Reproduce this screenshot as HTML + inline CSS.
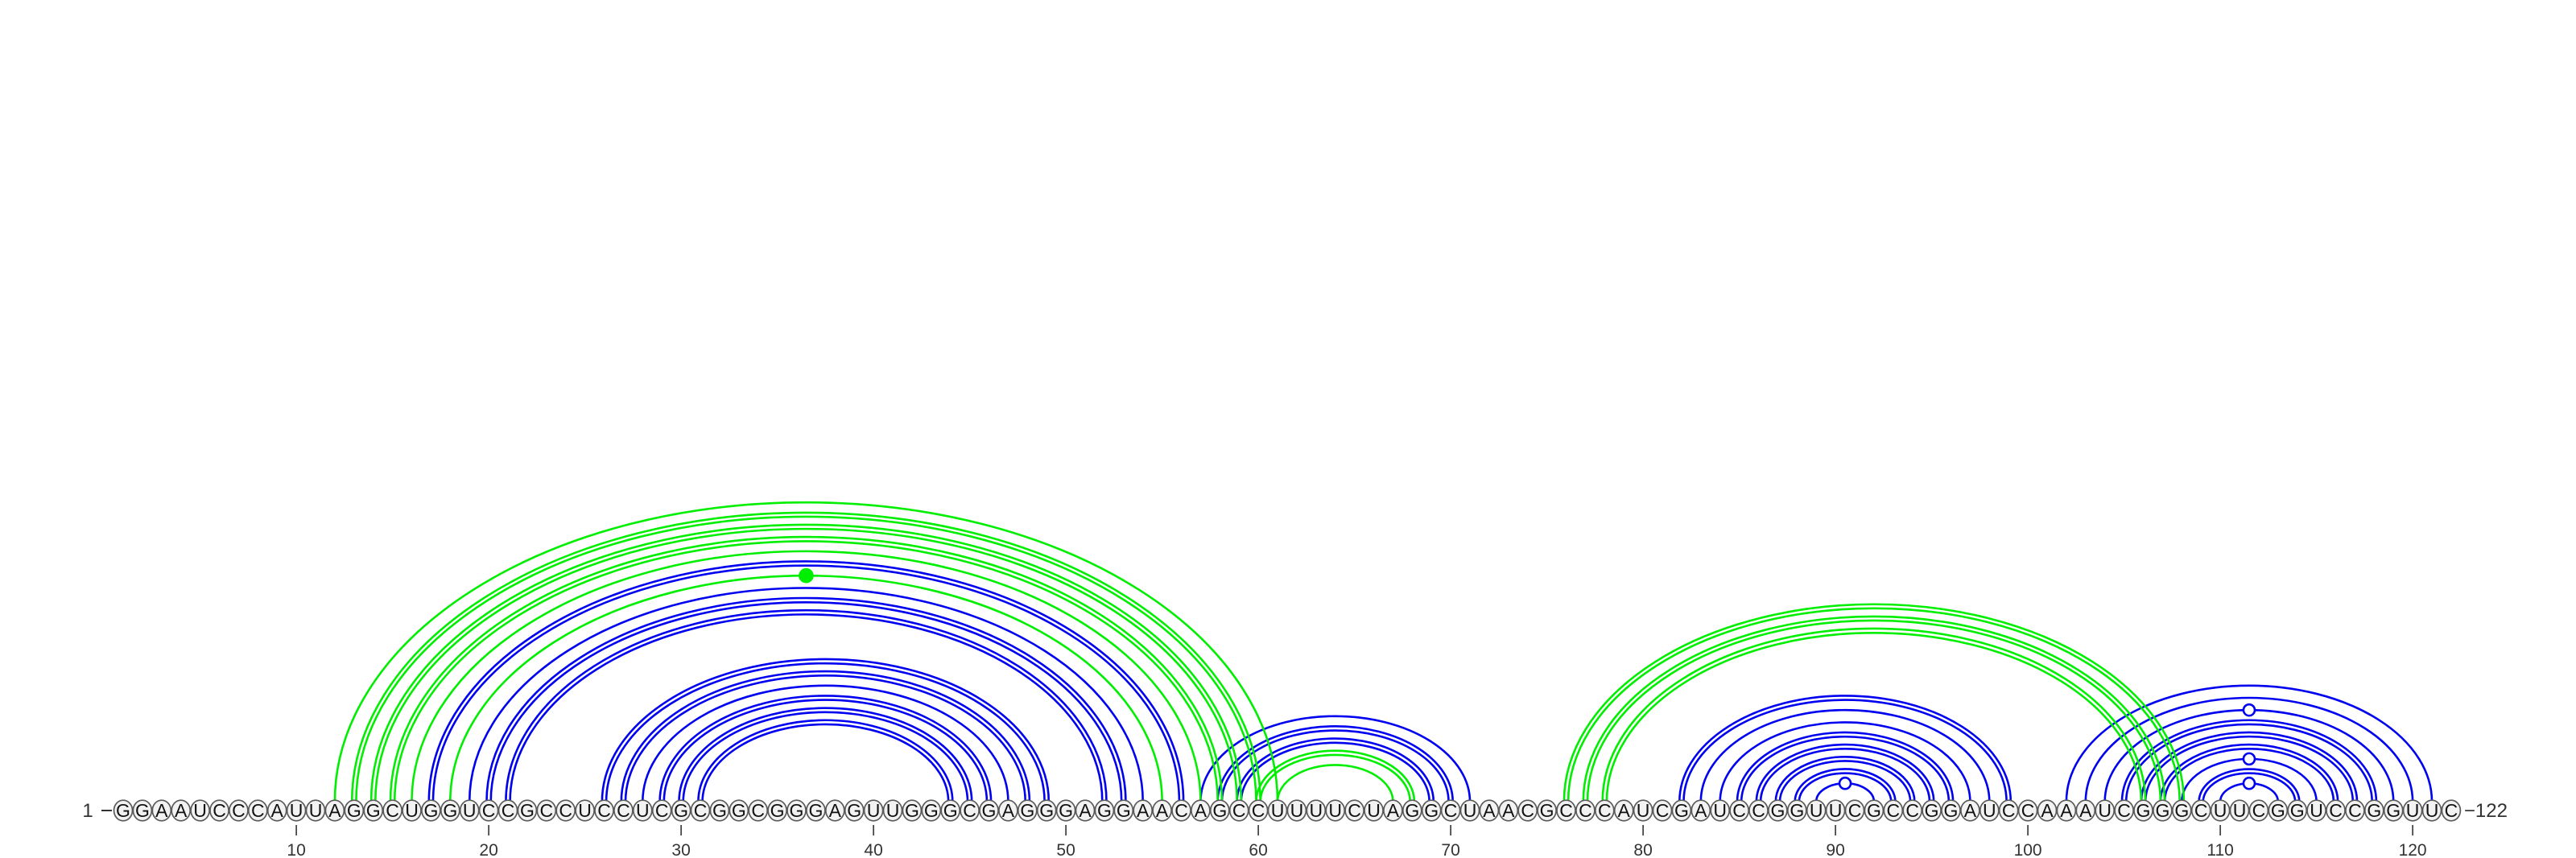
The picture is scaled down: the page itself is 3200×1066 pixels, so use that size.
<!DOCTYPE html>
<html><head><meta charset="utf-8"><title>RNA arc diagram</title>
<style>html,body{margin:0;padding:0;background:#fff;width:3200px;height:1066px;overflow:hidden}svg{display:block}</style>
</head><body>
<svg id="chart" width="3200" height="1066" viewBox="0 0 3200 1066" xmlns="http://www.w3.org/2000/svg">
<g id="arcs"></g>
<g id="nts"></g>
<g id="ticks"></g>
</svg>
<script>
const sequence = "GGAAUCCCAUUAGGCUGGUCCGCCUCCUCGCGGCGGGAGUUGGGCGAGGGAGGAACAGCCUUUUCUAGGCUAACGCCCAUCGAUCCGGUUCGCCGGAUCCAAAUCGGGCUUCGGUCCGGUUC";
const greenPairs = [[12,61],[13,60],[14,59],[15,58],[16,57],[18,55],[60,68],[61,67],[76,108],[77,107],[78,106]];
const greenDouble = [0,1,1,1,0,0,1,0,1,1,1];
const greenMarker = [0,0,0,0,0,1,0,0,0,0,0];
const bluePairs = [[17,56],[19,54],[20,53],[21,52],[26,49],[27,48],[28,47],[29,46],[30,45],[31,44],[57,71],[58,70],[59,69],[82,99],[83,98],[84,97],[85,96],[86,95],[87,94],[88,93],[89,92],[102,121],[103,120],[104,119],[105,118],[106,117],[107,116],[108,115],[109,114],[110,113]];
const blueDouble = [1,0,1,1,1,1,0,1,1,1,0,1,1,1,0,0,1,1,1,1,0,0,0,0,1,1,1,0,1,0];
const blueMarker = [0,0,0,0,0,0,0,0,0,0,0,0,0,0,0,0,0,0,0,0,1,0,0,1,0,0,0,1,0,1];
const tickValues = [10,20,30,40,50,60,70,80,90,100,110,120];

const NS = "http://www.w3.org/2000/svg";
const X0 = 153, DX = 23.9, YB = 1007, Y0 = 996, K = 0.635;
const xs = i => X0 + (i - 1) * DX;
function mk(tag, attrs, parent) {
  const e = document.createElementNS(NS, tag);
  for (const k in attrs) e.setAttribute(k, attrs[k]);
  parent.appendChild(e);
  return e;
}
const gArcs = document.getElementById('arcs');
function arc(i, j, color, dbl, marker, kind) {
  const cx = (xs(i) + xs(j)) / 2, rx = (xs(j) - xs(i)) / 2, ry = rx * K;
  const offs = dbl ? [-2.6, 2.6] : [0];
  offs.forEach(o => {
    const r1 = rx + o, r2 = ry + o;
    const p = mk('path', {d: `M${cx - r1},${Y0} A${r1},${r2} 0 0 1 ${cx + r1},${Y0}`, fill: 'none', stroke: color, 'stroke-width': 2.6}, gArcs);
    
    
  });
  if (marker) {
    const c = mk('circle', {cx: cx, cy: Y0 - ry, r: kind === 'green' ? 8 : 7, fill: kind === 'green' ? '#00ee00' : '#fff', stroke: color, 'stroke-width': 2.6}, gArcs);
    
    
  }
}
bluePairs.forEach((p, k) => arc(p[0], p[1], '#0000f0', blueDouble[k], blueMarker[k], 'blue'));
greenPairs.forEach((p, k) => arc(p[0], p[1], '#00ee00', greenDouble[k], greenMarker[k], 'green'));

const gN = document.getElementById('nts');
for (let i = 1; i <= sequence.length; i++) {
  const e = mk('ellipse', {cx: xs(i), cy: YB, rx: 11.5, ry: 12.8, fill: '#f2f2f2', stroke: '#5a5a5a', 'stroke-width': 1.7}, gN);
  
  
  const t = mk('text', {x: xs(i), y: YB + 8, 'text-anchor': 'middle', 'font-family': 'Liberation Sans, DejaVu Sans, sans-serif', 'font-size': 23, fill: '#111'}, gN);
  t.textContent = sequence[i - 1];
  
  
}
const st = mk('text', {x: 109, y: YB + 8, 'text-anchor': 'middle', 'font-family': 'Liberation Sans, DejaVu Sans, sans-serif', 'font-size': 24, fill: '#333'}, gN);
st.textContent = '1';


const sd = mk('line', {x1: 126, y1: YB, x2: 139, y2: YB, stroke: '#333', 'stroke-width': 2}, gN);


const en = mk('text', {x: xs(sequence.length) + 16, y: YB + 8, 'font-family': 'Liberation Sans, DejaVu Sans, sans-serif', 'font-size': 24, fill: '#333'}, gN);
en.textContent = '\u2212' + sequence.length;



const gT = document.getElementById('ticks');
tickValues.forEach(v => {
  const l = mk('line', {x1: xs(v), y1: 1025, x2: xs(v), y2: 1038, stroke: '#333', 'stroke-width': 1.6}, gT);
  
  
  const t = mk('text', {x: xs(v), y: 1063, 'text-anchor': 'middle', 'font-family': 'Liberation Sans, DejaVu Sans, sans-serif', 'font-size': 21, fill: '#333'}, gT);
  t.textContent = v;
  
  
});
</script>
</body></html>
